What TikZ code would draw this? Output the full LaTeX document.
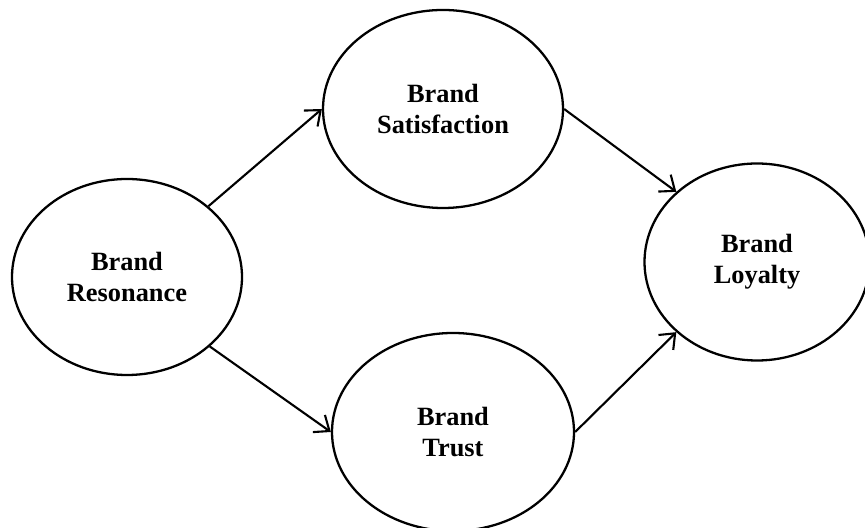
\documentclass[tikz,border=0pt]{standalone}
\usepackage{fontspec}
\setmainfont{Liberation Serif}
\usetikzlibrary{shapes.geometric}
\usetikzlibrary{arrows.meta}

\begin{document}
\begin{tikzpicture}[construct/.style={draw, ellipse, line width=1.3pt, inner sep=0pt, align=center, font=\fontsize{15}{17.6}\selectfont\bfseries}, link/.style={-{Straight Barb[length=2.6mm,width=4.2mm]}, line width=1.2pt}]
            \useasboundingbox (0,0) rectangle (17.3,10.54);
            \node[construct, minimum width=4.6cm, minimum height=3.92cm] (resonance) at (2.54,5.0) {Brand\\Resonance};
            \node[construct, minimum width=4.8cm, minimum height=3.96cm] (satisfaction) at (8.86,8.36) {Brand\\Satisfaction};
            \node[construct, minimum width=4.84cm, minimum height=3.96cm] (trust) at (9.06,1.9) {Brand\\Trust};
            \node[construct, minimum width=4.5cm, minimum height=3.94cm] (loyalty) at (15.14,5.3) {Brand\\Loyalty};
            
            \draw[link] (resonance.41) -- (satisfaction.west);
            \draw[link] (resonance.-40) -- (trust.west);
            \draw[link] (satisfaction.east) -- (loyalty.139);
            \draw[link] (trust.east) -- (loyalty.-139);
        \end{tikzpicture}
\end{document}
